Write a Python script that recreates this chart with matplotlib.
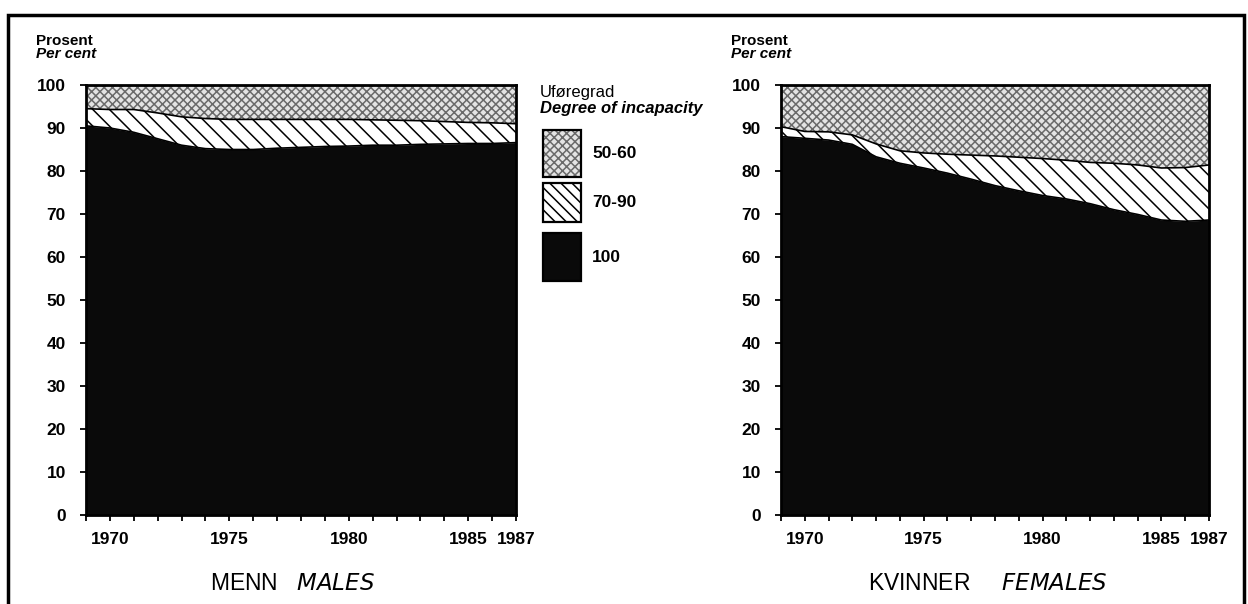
import matplotlib
matplotlib.use("Agg")
import matplotlib.pyplot as plt
from matplotlib.patches import Rectangle
import numpy as np

plt.rcParams['font.family'] = ['Liberation Sans', 'DejaVu Sans']
plt.rcParams['hatch.linewidth'] = 1.1

years = list(range(1969, 1988))
tick_labels = {1970: "1970", 1975: "1975", 1980: "1980", 1985: "1985", 1987: "1987"}

# Shares (per cent) by degree of incapacity
men_100 = [90.5, 90.0, 89.0, 87.5, 86.0, 85.2, 85.0, 85.0, 85.3, 85.5, 85.7, 85.8, 86.0, 86.0, 86.2, 86.3, 86.4, 86.4, 86.6]
men_70_90 = [4.0, 4.3, 5.3, 6.0, 6.6, 7.0, 7.0, 7.0, 6.7, 6.5, 6.3, 6.2, 5.9, 5.8, 5.5, 5.2, 4.9, 4.8, 4.4]
men_50_60 = [5.5, 5.7, 5.7, 6.5, 7.4, 7.8, 8.0, 8.0, 8.0, 8.0, 8.0, 8.0, 8.1, 8.2, 8.3, 8.5, 8.7, 8.8, 9.0]

women_100 = [88.0, 87.6, 87.2, 86.2, 83.3, 81.8, 80.7, 79.5, 78.1, 76.6, 75.4, 74.3, 73.5, 72.4, 71.0, 69.9, 68.6, 68.3, 68.6]
women_70_90 = [2.3, 1.6, 1.9, 2.2, 3.0, 2.9, 3.5, 4.4, 5.6, 6.9, 7.8, 8.6, 9.0, 9.6, 10.8, 11.5, 12.1, 12.5, 12.8]
women_50_60 = [9.7, 10.8, 10.9, 11.6, 13.7, 15.3, 15.8, 16.1, 16.3, 16.5, 16.8, 17.1, 17.5, 18.0, 18.2, 18.6, 19.3, 19.2, 18.6]

legend_labels = ["50-60", "70-90", "100"]

W, H = 1248, 604
fig = plt.figure(figsize=(W / 100, H / 100), dpi=100)

BLACK = '#0a0a0a'
CHK_FACE = '#e4e4e4'
CHK_HATCH = '#6a6a6a'
CHK_PAT = 'xxxx'
DIAG_PAT = '\\\\'


def px_axes(x0, x1, y0, y1):
    return fig.add_axes([x0 / W, 1 - y1 / H, (x1 - x0) / W, (y1 - y0) / H])


def draw_panel(ax, s100, s7090, s5060):
    y = np.array(years)
    a = np.array(s100)
    b = a + np.array(s7090)
    c = b + np.array(s5060)
    ax.fill_between(y, 0, a, facecolor=BLACK, edgecolor=BLACK, linewidth=0)
    ax.fill_between(y, a, b, facecolor='white', edgecolor='black', hatch=DIAG_PAT, linewidth=0)
    ax.fill_between(y, b, c, facecolor=CHK_FACE, edgecolor=CHK_HATCH, hatch=CHK_PAT, linewidth=0)
    ax.plot(y, a, color='black', lw=1.2)
    ax.plot(y, b, color='black', lw=1.2)
    ax.set_xlim(1969, 1987)
    ax.set_ylim(0, 100)
    ax.set_yticks(range(0, 101, 10))
    ax.set_xticks(years)
    ax.set_xticklabels([tick_labels.get(v, "") for v in years])
    for sp in ax.spines.values():
        sp.set_linewidth(2.0)
    ax.tick_params(axis='both', direction='out', length=4.5, width=1.3, labelsize=12.5)
    for lab in ax.get_xticklabels() + ax.get_yticklabels():
        lab.set_fontweight('bold')
    ax.tick_params(axis='y', pad=10)
    ax.tick_params(axis='x', pad=8)


ax1 = px_axes(86, 516, 85, 515)
draw_panel(ax1, men_100, men_70_90, men_50_60)
ax2 = px_axes(781, 1209, 85, 515)
draw_panel(ax2, women_100, women_70_90, women_50_60)

# y-axis captions
for xp in (36, 731):
    fig.text(xp / W, 1 - 41 / H, "Prosent", fontsize=11, fontweight='bold', va='center')
    fig.text(xp / W, 1 - 54 / H, "Per cent", fontsize=11, fontweight='bold', style='italic', va='center')

# panel titles
fig.text(292 / W, 1 - 584 / H, "MENN   $\\it{MALES}$", fontsize=16.5, ha='center', va='center')
fig.text(988 / W, 1 - 584 / H, "KVINNER     $\\it{FEMALES}$", fontsize=16.5, ha='center', va='center')

# legend
fig.text(540 / W, 1 - 92 / H, "Uføregrad", fontsize=12, va='center')
fig.text(540 / W, 1 - 108 / H, "Degree of incapacity", fontsize=12, style='italic', fontweight='bold', va='center')
boxes = [(130, 177, CHK_FACE, CHK_HATCH, CHK_PAT), (183, 222, 'white', 'black', '\\\\\\'), (233, 281, BLACK, BLACK, None)]
for (yt, yb, fc, hc, hp), lab in zip(boxes, legend_labels):
    r = Rectangle((543 / W, 1 - yb / H), 38 / W, (yb - yt) / H, transform=fig.transFigure,
                  facecolor=fc, edgecolor=hc, hatch=hp, linewidth=0)
    fig.add_artist(r)
    r2 = Rectangle((543 / W, 1 - yb / H), 38 / W, (yb - yt) / H, transform=fig.transFigure,
                   fill=False, edgecolor='black', linewidth=1.6)
    fig.add_artist(r2)
    fig.text(592 / W, 1 - (yt + yb) / 2 / H, lab, fontsize=12.5, fontweight='bold', va='center')

# outer frame
frame = Rectangle((8 / W, -0.02), 1236 / W, 1 - 15 / H + 0.02, transform=fig.transFigure,
                  fill=False, edgecolor='black', linewidth=2.5)
fig.add_artist(frame)

fig.savefig("out.png", dpi=100)
